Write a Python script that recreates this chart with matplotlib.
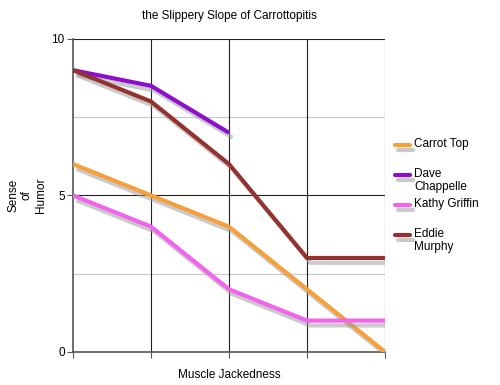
import matplotlib
matplotlib.use("Agg")
import matplotlib.pyplot as plt
import matplotlib.patheffects as pe
from matplotlib.lines import Line2D

plt.rcParams["font.family"] = ["Liberation Sans", "DejaVu Sans"]

x_vals = [0, 1, 2, 3, 4]
carrot_top = [6, 5, 4, 2, 0]
dave_chappelle = [9, 8.5, 7]
kathy_griffin = [5, 4, 2, 1, 1]
eddie_murphy = [9, 8, 6, 3, 3]

series = [
    ("Carrot Top", carrot_top, "#F5A03C"),
    ("Dave\nChappelle", dave_chappelle, "#8C0FCB"),
    ("Kathy Griffin", kathy_griffin, "#F263EE"),
    ("Eddie\nMurphy", eddie_murphy, "#943232"),
]

W, H = 500, 385
fig = plt.figure(figsize=(W / 100, H / 100), dpi=100)
ax = fig.add_axes([0.146, 0.086, 0.624, 0.813])

shadow = [pe.SimpleLineShadow(offset=(2.5, -3.5), shadow_color="#a0a0a0", alpha=0.55),
          pe.Normal()]

# grid
for y in [2.5, 7.5]:
    ax.axhline(y, color="#c8c8c8", lw=0.8, zorder=1)
for y in [5, 10]:
    ax.axhline(y, color="#222222", lw=0.8, zorder=1)
for x in x_vals[1:]:
    ax.axvline(x, color="#222222", lw=0.8, zorder=1)

for name, vals, color in series:
    ax.plot(x_vals[:len(vals)], vals, color=color, lw=3, solid_capstyle="butt",
            solid_joinstyle="round", path_effects=shadow, zorder=3)

ax.set_xlim(0, 4)
ax.set_ylim(0, 10)
ax.set_yticks([0, 5, 10])
ax.set_xticks(x_vals)
ax.set_xticklabels([])
ax.tick_params(axis="both", length=4, width=0.8, color="#555555", labelsize=8.5,
               direction="out", pad=2)
for side in ["top", "right"]:
    ax.spines[side].set_visible(False)
for side in ["left", "bottom"]:
    ax.spines[side].set_color("#555555")
    ax.spines[side].set_linewidth(1.2)

ax.set_title("the Slippery Slope of Carrottopitis", fontsize=8.5, pad=14)
ax.set_xlabel("Muscle Jackedness", fontsize=8.5, labelpad=6)
fig.text(27 / W, 1 - 195 / H, "Sense\nof\nHumor", rotation=90, ha="center",
         va="center", fontsize=8.5, multialignment="center")

# legend drawn by hand so each entry sits on a fixed slot
for i, (name, _, color) in enumerate(series):
    yc = 1 - (145 + 30 * i) / H
    fig.add_artist(Line2D([395 / W, 410 / W], [yc, yc], color=color, lw=3,
                          solid_capstyle="round", path_effects=shadow))
    fig.text(414 / W, yc + 7 / H, name, ha="left", va="top", fontsize=8.5,
             linespacing=1.15)

fig.savefig("out.png", dpi=100)
